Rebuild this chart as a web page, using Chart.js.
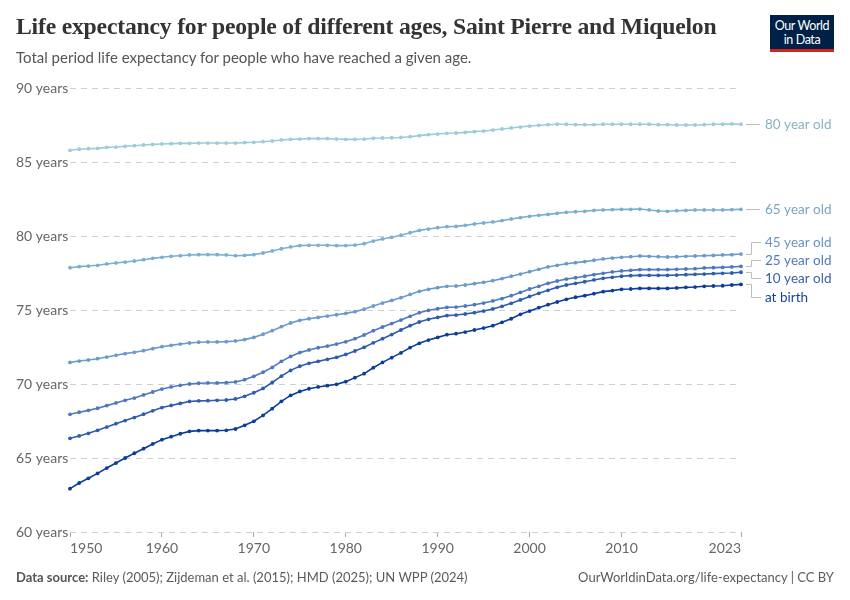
<!DOCTYPE html>
<html>
<head>
<meta charset="utf-8">
<script src="https://cdn.jsdelivr.net/npm/chart.js@4"></script>
<style>
  html, body { margin:0; padding:0; background:#fff; }
  body { width:850px; height:600px; position:relative; overflow:hidden; font-family: Lato, "Noto Sans", sans-serif; }
  #wrap { position:absolute; left:0; top:0; width:850px; height:600px; }
  #title { position:absolute; left:16px; top:13px; font-family:"Liberation Serif", "DejaVu Serif", serif; font-weight:700; font-size:26px; color:#333; white-space:nowrap; letter-spacing:-0.2px; }
  #subtitle { position:absolute; left:16px; top:48px; font-size:15px; color:#555; white-space:nowrap; }
  #logo { position:absolute; left:770px; top:15px; width:64px; height:37px; background:#002147; border-bottom:3px solid #ce261e; box-sizing:border-box; color:#fff; font-size:12.5px; line-height:13.5px; text-align:center; padding-top:4px; letter-spacing:-0.4px; }
  #source { position:absolute; left:16px; top:569px; font-size:13px; color:#5b5b5b; white-space:nowrap; }
  #source b { font-weight:700; color:#555; }
  #url { position:absolute; right:16px; top:569px; font-size:13px; color:#5b5b5b; white-space:nowrap; }
</style>
</head>
<body>
<div id="wrap"><canvas id="c" width="850" height="600"></canvas></div>
<div id="title">Life expectancy for people of different ages, Saint Pierre and Miquelon</div>
<div id="subtitle">Total period life expectancy for people who have reached a given age.</div>
<div id="logo">Our World<br>in Data</div>
<div id="source"><b>Data source:</b> Riley (2005); Zijdeman et al. (2015); HMD (2025); UN WPP (2024)</div>
<div id="url">OurWorldinData.org/life-expectancy | CC BY</div>
<script>
// ---- DATA ----
const years = [];
for (let y = 1950; y <= 2023; y++) years.push(y);

const xTickYears = [1950, 1960, 1970, 1980, 1990, 2000, 2010, 2023];
const yTickValues = [60, 65, 70, 75, 80, 85, 90];

const seriesNames = ["80 year old", "65 year old", "45 year old", "25 year old", "10 year old", "at birth"];

const age80 = [85.79,85.86,85.90,85.92,85.99,86.01,86.06,86.10,86.15,86.19,
  86.22,86.24,86.26,86.26,86.28,86.28,86.28,86.28,86.28,86.31,
  86.33,86.37,86.42,86.49,86.53,86.55,86.58,86.58,86.58,86.55,
  86.53,86.53,86.55,86.60,86.62,86.64,86.66,86.71,86.78,86.85,
  86.89,86.94,86.96,87.00,87.05,87.09,87.16,87.23,87.30,87.36,
  87.43,87.48,87.52,87.55,87.55,87.52,87.52,87.52,87.55,87.55,
  87.55,87.55,87.55,87.55,87.52,87.52,87.50,87.50,87.50,87.52,
  87.55,87.55,87.57,87.55];

const age65 = [77.86,77.93,77.97,78.02,78.11,78.18,78.24,78.31,78.40,78.49,
  78.56,78.63,78.67,78.72,78.74,78.74,78.74,78.72,78.67,78.69,
  78.74,78.85,78.99,79.14,79.26,79.35,79.37,79.37,79.37,79.35,
  79.35,79.39,79.48,79.66,79.80,79.91,80.05,80.22,80.38,80.47,
  80.56,80.63,80.65,80.72,80.81,80.88,80.95,81.04,81.15,81.24,
  81.33,81.40,81.46,81.53,81.60,81.64,81.67,81.73,81.76,81.78,
  81.80,81.80,81.82,81.76,81.69,81.67,81.71,81.73,81.76,81.76,
  81.76,81.76,81.78,81.80];

const age45 = [71.46,71.55,71.62,71.71,71.82,71.94,72.05,72.14,72.25,72.39,
  72.52,72.61,72.70,72.77,72.82,72.84,72.84,72.86,72.91,73.00,
  73.15,73.36,73.60,73.87,74.12,74.30,74.41,74.50,74.59,74.68,
  74.77,74.89,75.05,75.27,75.47,75.65,75.83,76.05,76.26,76.40,
  76.51,76.60,76.62,76.69,76.78,76.87,76.98,77.12,77.28,77.43,
  77.59,77.75,77.91,78.02,78.13,78.20,78.27,78.36,78.45,78.51,
  78.56,78.60,78.65,78.63,78.60,78.58,78.60,78.63,78.65,78.67,
  78.69,78.72,78.74,78.78];

const age25 = [67.95,68.09,68.22,68.36,68.54,68.72,68.90,69.05,69.26,69.46,
  69.66,69.80,69.91,70.00,70.05,70.07,70.07,70.09,70.14,70.29,
  70.52,70.80,71.12,71.53,71.86,72.12,72.30,72.45,72.56,72.70,
  72.85,73.06,73.31,73.60,73.85,74.08,74.32,74.57,74.82,74.98,
  75.09,75.18,75.20,75.27,75.36,75.47,75.61,75.77,75.97,76.19,
  76.42,76.60,76.80,76.96,77.09,77.18,77.28,77.39,77.48,77.57,
  77.64,77.68,77.73,77.73,77.73,77.73,77.75,77.77,77.79,77.84,
  77.86,77.88,77.91,77.95];

const age10 = [66.33,66.49,66.67,66.87,67.09,67.32,67.53,67.73,67.96,68.19,
  68.41,68.55,68.69,68.82,68.86,68.87,68.90,68.92,68.99,69.17,
  69.41,69.70,70.10,70.53,70.92,71.20,71.40,71.53,71.67,71.80,
  72.00,72.23,72.48,72.78,73.06,73.34,73.65,73.94,74.19,74.37,
  74.50,74.62,74.66,74.73,74.82,74.93,75.07,75.25,75.45,75.68,
  75.92,76.13,76.33,76.53,76.69,76.80,76.91,77.03,77.14,77.21,
  77.28,77.32,77.34,77.34,77.34,77.34,77.36,77.39,77.41,77.43,
  77.46,77.48,77.50,77.55];

const atBirth = [62.93,63.31,63.63,63.96,64.32,64.66,65.00,65.32,65.63,65.95,
  66.24,66.44,66.64,66.80,66.85,66.85,66.85,66.87,66.96,67.21,
  67.48,67.88,68.33,68.83,69.23,69.50,69.68,69.80,69.89,69.98,
  70.16,70.43,70.70,71.10,71.46,71.78,72.10,72.46,72.75,72.97,
  73.15,73.33,73.40,73.51,73.65,73.78,73.94,74.17,74.41,74.71,
  74.93,75.16,75.36,75.54,75.72,75.86,75.97,76.10,76.24,76.31,
  76.40,76.42,76.46,76.46,76.46,76.46,76.49,76.53,76.55,76.60,
  76.62,76.64,76.69,76.73];

const seriesValues = [age80, age65, age45, age25, age10, atBirth];
const lineColors  = ["#9dccd9", "#7aafd2", "#6b9bcd", "#4e79bd", "#2f5cad", "#0b3d99"];
const labelColors = ["#88b3c2", "#7ba6c0", "#6a93c5", "#5079bb", "#3a61ad", "#15429f"];

// ---- fit title width ----
(function(){
  const t = document.getElementById('title');
  const target = 702;
  const w = t.getBoundingClientRect().width;
  const fs = parseFloat(getComputedStyle(t).fontSize);
  t.style.fontSize = (fs * target / w).toFixed(2) + 'px';
})();

// ---- end label plugin ----
const endLabels = {
  id: 'endLabels',
  afterDatasetsDraw(chart) {
    const ctx = chart.ctx;
    const items = chart.data.datasets.map((ds, i) => {
      const meta = chart.getDatasetMeta(i);
      const pt = meta.data[meta.data.length - 1];
      return { i, px: pt.x, py: pt.y, ly: pt.y };
    });
    const gap = 18.3;
    const sorted = items.slice().sort((a, b) => a.py - b.py);
    let groups = sorted.map(it => ({ members: [it], center: it.py }));
    let changed = true;
    while (changed) {
      changed = false;
      for (let g = 0; g < groups.length - 1; g++) {
        const A = groups[g], B = groups[g + 1];
        const aBottom = A.center + (A.members.length - 1) * gap / 2;
        const bTop = B.center - (B.members.length - 1) * gap / 2;
        if (bTop - aBottom < gap) {
          const members = A.members.concat(B.members);
          const center = members.reduce((s, m) => s + m.py, 0) / members.length;
          groups.splice(g, 2, { members, center });
          changed = true;
          break;
        }
      }
    }
    groups.forEach(G => {
      const n = G.members.length;
      G.members.forEach((m, k) => { m.ly = G.center + (k - (n - 1) / 2) * gap; });
    });
    const labelX = 765;
    ctx.save();
    ctx.strokeStyle = '#bdbdbd';
    ctx.lineWidth = 1;
    items.forEach(it => {
      ctx.beginPath();
      const x0 = it.px + 5;
      if (Math.abs(it.ly - it.py) < 1.5) {
        ctx.moveTo(x0, Math.round(it.py) + 0.5);
        ctx.lineTo(labelX - 5, Math.round(it.py) + 0.5);
      } else {
        const ex = 751.5;
        ctx.moveTo(x0, Math.round(it.py) + 0.5);
        ctx.lineTo(ex, Math.round(it.py) + 0.5);
        ctx.lineTo(ex, Math.round(it.ly) + 0.5);
        ctx.lineTo(labelX - 4, Math.round(it.ly) + 0.5);
      }
      ctx.stroke();
      ctx.font = '13.5px Lato, "Noto Sans", sans-serif';
      ctx.fillStyle = labelColors[it.i];
      ctx.textBaseline = 'middle';
      ctx.textAlign = 'left';
      ctx.fillText(chart.data.datasets[it.i].label, labelX, it.ly + 0.5);
    });
    ctx.restore();
  }
};

const datasets = seriesNames.map((name, i) => ({
  label: name,
  data: years.map((y, k) => ({ x: y, y: seriesValues[i][k] })),
  borderColor: lineColors[i],
  backgroundColor: lineColors[i],
  borderWidth: 1.6,
  pointRadius: 1.9,
  pointBorderWidth: 0,
  pointHoverRadius: 0,
  tension: 0,
  fill: false,
  clip: false
}));

new Chart(document.getElementById('c'), {
  type: 'line',
  data: { datasets },
  plugins: [endLabels],
  options: {
    responsive: false,
    animation: false,
    events: [],
    layout: { padding: { left: 16, right: 109, top: 88, bottom: 0 } },
    plugins: { legend: { display: false }, tooltip: { enabled: false }, title: { display: false } },
    scales: {
      x: {
        type: 'linear',
        min: 1950, max: 2023,
        afterBuildTicks: s => { s.ticks = xTickYears.map(v => ({ value: v })); },
        afterFit: s => { s.height = 68; },
        grid: { drawOnChartArea: false, drawTicks: true, tickLength: 5, color: '#a8a8a8', lineWidth: 1 },
        border: { display: false },
        ticks: {
          autoSkip: false, maxRotation: 0, align: 'inner', padding: 3,
          color: '#666', font: { family: 'Lato', size: 14 },
          callback: v => String(v)
        }
      },
      y: {
        min: 60, max: 90,
        afterBuildTicks: s => { s.ticks = yTickValues.map(v => ({ value: v })); },
        afterFit: s => { s.width = 54; },
        grid: { color: '#d0d0d0', lineWidth: 1, drawTicks: false, tickLength: 0, borderDash: [6, 5] },
        border: { display: false, dash: [6, 5] },
        ticks: {
          crossAlign: 'far', padding: 0,
          color: '#666', font: { family: 'Lato', size: 14 },
          callback: v => v + ' years'
        }
      }
    }
  }
});
</script>
</body>
</html>
